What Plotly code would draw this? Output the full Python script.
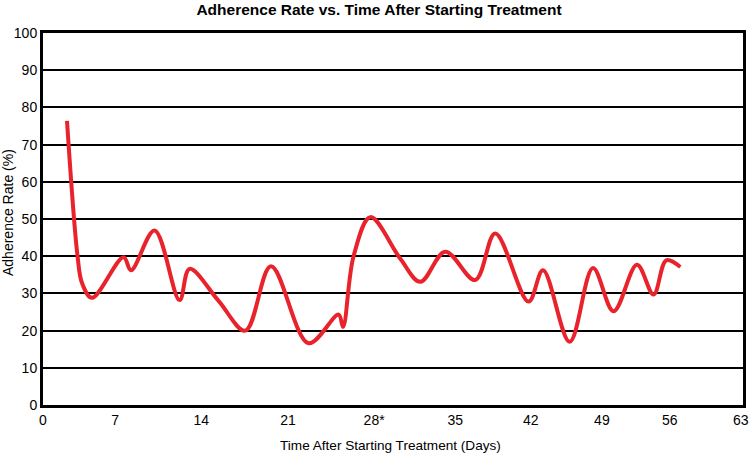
import plotly.graph_objects as go

# Curve: day (linear position on the 0-63 axis) and adherence (%)
days = [2.16, 3.11, 3.52, 4.41, 7.25, 7.92, 10.04, 12.29, 13.19, 15.8, 18.21, 20.52,
        23.9, 26.6, 27.0, 27.95, 29.46, 32.16, 33.96, 36.2, 38.9, 40.7, 43.7, 45.0,
        47.4, 49.5, 51.35, 53.46, 54.95, 56.1, 57.36]
adherence = [76.4, 40.0, 32.7, 28.8, 39.7, 36.2, 46.9, 28.2, 36.6, 28.0, 20.0, 37.3,
             16.6, 24.3, 21.0, 40.0, 50.5, 39.3, 33.1, 41.2, 33.6, 46.1, 27.8, 36.2,
             17.0, 36.8, 25.2, 37.7, 29.7, 38.9, 37.1]

# Tick labels as drawn (their positions along the axis in the picture)
x_tick_labels = ["0", "7", "14", "21", "28*", "35", "42", "49", "56", "63"]
x_tick_pos = [0, 6.5, 14.25, 22.05, 29.8, 37.1, 43.9, 50.3, 56.4, 62.8]
y_ticks = [0, 10, 20, 30, 40, 50, 60, 70, 80, 90, 100]

title_text = "Adherence Rate vs. Time After Starting Treatment"
x_title = "Time After Starting Treatment (Days)"
y_title = "Adherence Rate (%)"

font_family = "Liberation Sans, Arial, Helvetica, sans-serif"

fig = go.Figure()
fig.add_trace(go.Scatter(
    x=days, y=adherence, mode="lines",
    line=dict(color="#e8232b", width=4, shape="spline", smoothing=1.0),
    hoverinfo="x+y", showlegend=False,
))

fig.update_layout(
    width=749, height=454,
    margin=dict(l=43, r=6, t=33, b=49, autoexpand=False),
    paper_bgcolor="white", plot_bgcolor="white",
    font=dict(family=font_family, color="black", size=12),
    title=dict(text="<b>" + title_text + "</b>",
               x=379 / 749, xanchor="center", xref="container",
               y=1 - 10 / 454, yanchor="middle", yref="container",
               font=dict(size=15.5, color="black")),
    annotations=[
        dict(text=x_title, xref="paper", yref="paper",
             x=(390 - 43) / 700, y=(405 - 446) / 372,
             xanchor="center", yanchor="middle", showarrow=False,
             font=dict(size=13.6, color="black")),
        dict(text=y_title, xref="paper", yref="paper",
             x=(8 - 43) / 700, y=(405 - 213) / 372, textangle=-90,
             xanchor="center", yanchor="middle", showarrow=False,
             font=dict(size=14, color="black")),
    ],
)
fig.update_xaxes(
    range=[0, 63], tickmode="array", tickvals=x_tick_pos, ticktext=x_tick_labels,
    showgrid=False, zeroline=False, showline=True, linecolor="black", linewidth=3,
    mirror=True, ticks="", automargin=False, ticklabeloverflow="allow",
    tickfont=dict(size=14, color="black"),
)
fig.update_yaxes(
    range=[0, 100], tickmode="array", tickvals=y_ticks,
    showgrid=True, gridcolor="black", gridwidth=2.2,
    zeroline=False, showline=True, linecolor="black", linewidth=3, mirror=True,
    ticks="", automargin=False, ticklabeloverflow="allow",
    tickfont=dict(size=14, color="black"),
)

fig.write_html(
    "out.html",
    config={"displayModeBar": False},
    post_script="document.body.style.margin='0';document.body.style.padding='0';",
)
